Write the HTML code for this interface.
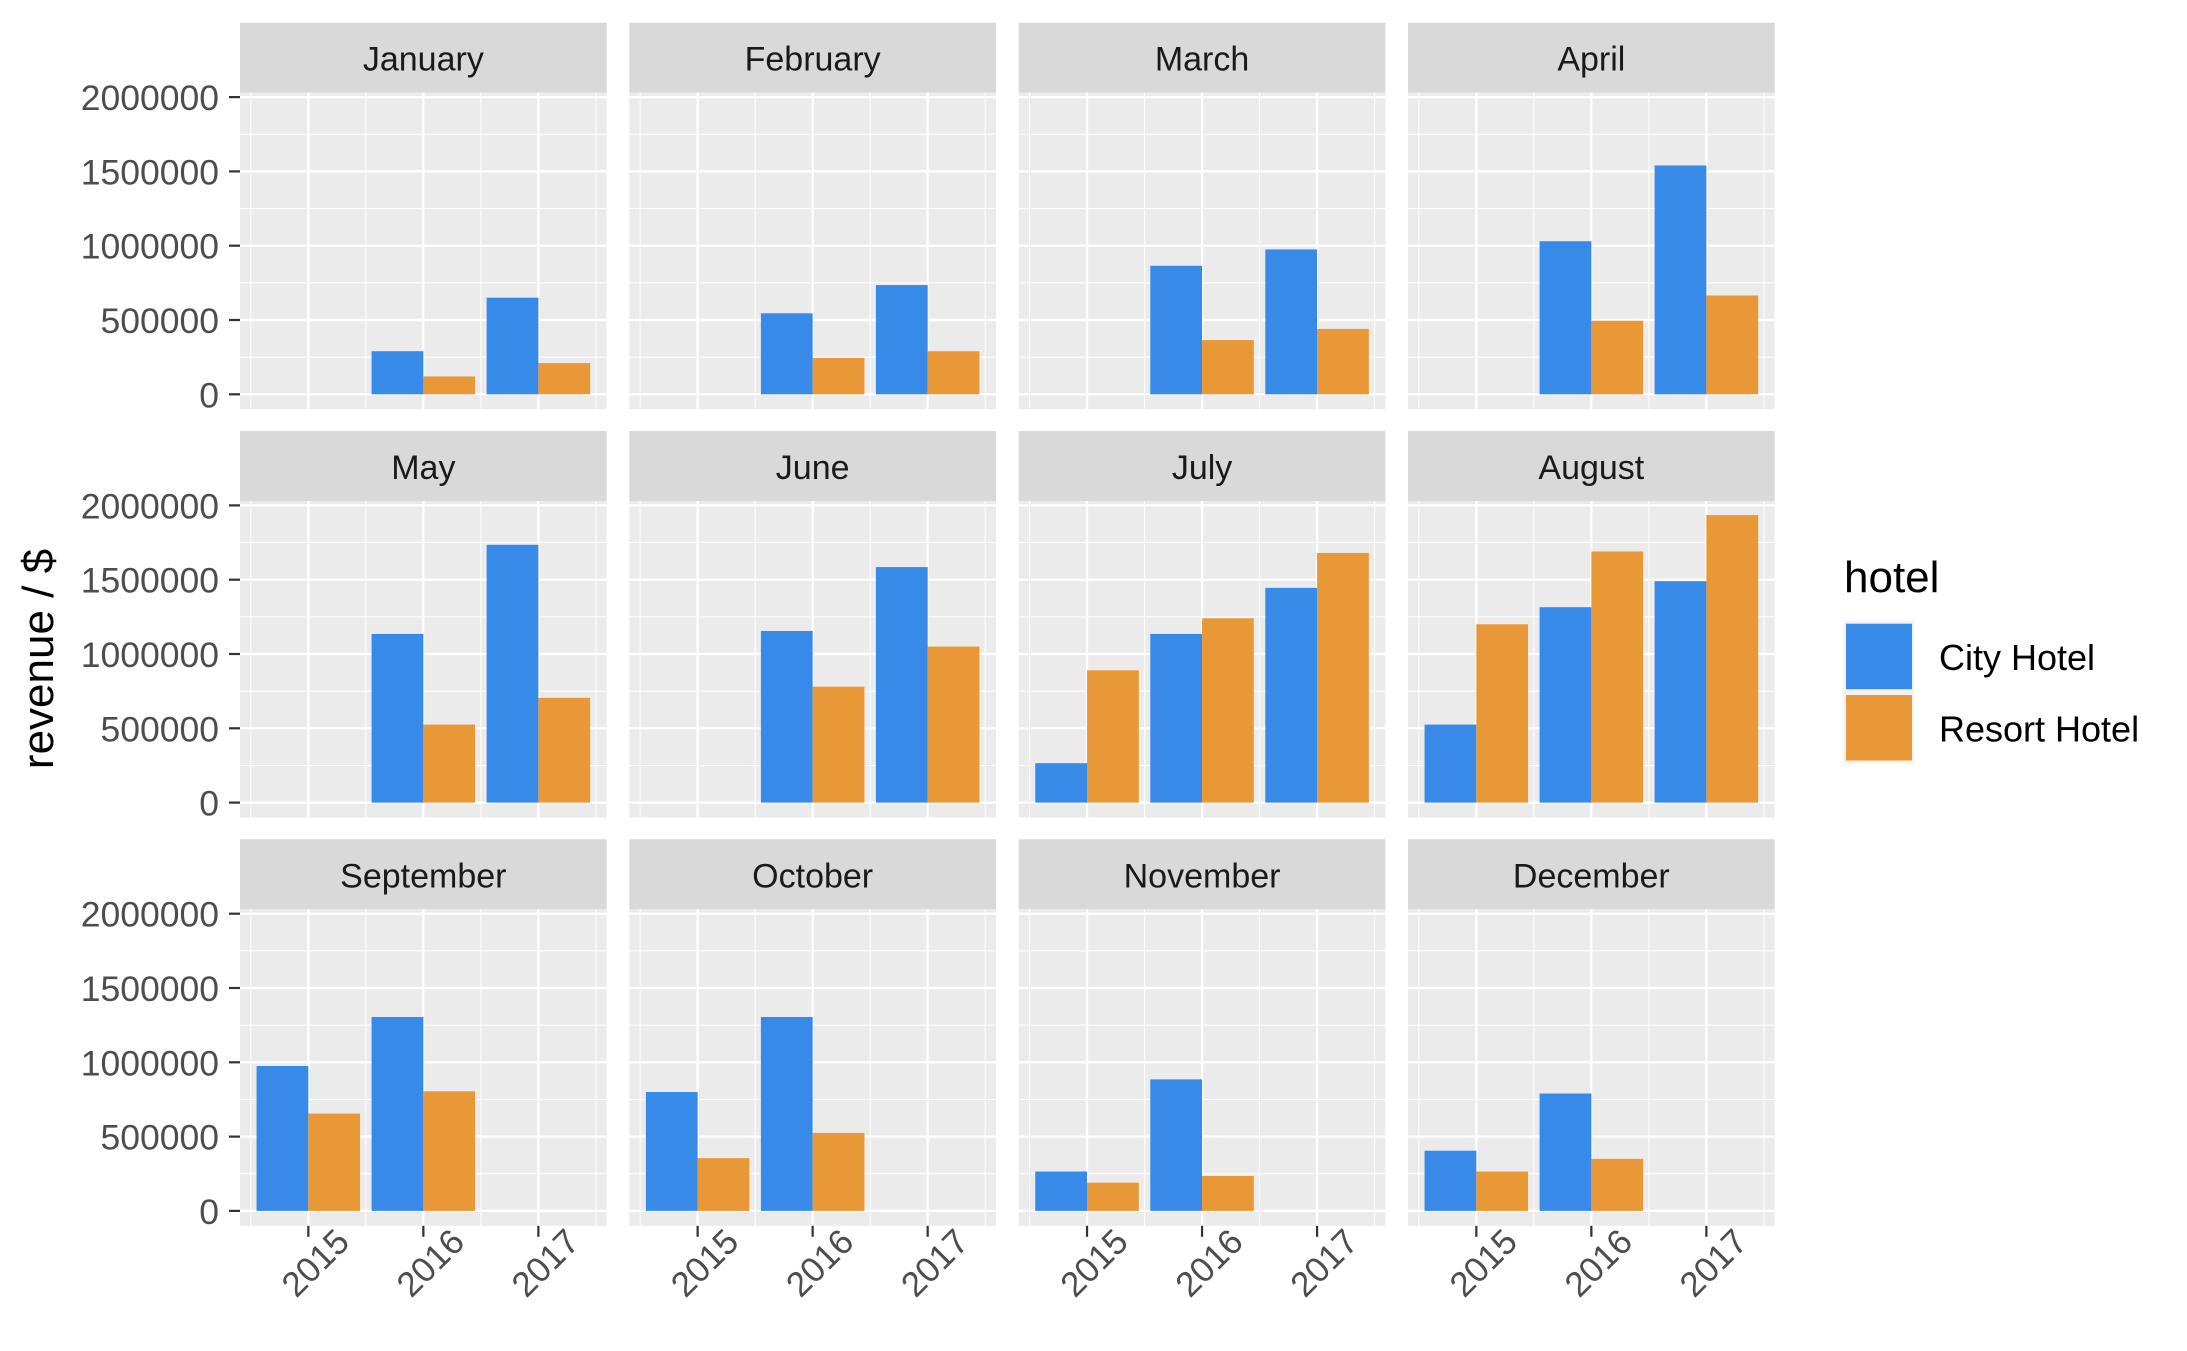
<!DOCTYPE html>
<html><head><meta charset="utf-8"><style>
html,body{margin:0;padding:0;background:#fff;}
svg{display:block;font-family:"Liberation Sans",Arial,sans-serif;}
</style></head><body>
<svg id="chart" width="2187" height="1351" viewBox="0 0 2187 1351" xmlns="http://www.w3.org/2000/svg"></svg>
<script>
const months=["January","February","March","April","May","June","July","August","September","October","November","December"];
const years=[2015,2016,2017];
const yTicks=[0,500000,1000000,1500000,2000000];
const yTickLabels=["0","500000","1000000","1500000","2000000"];
const cityRevenue=[
[null,290000,650000],[null,545000,735000],[null,865000,975000],[null,1030000,1540000],
[null,1135000,1735000],[null,1155000,1585000],[265000,1135000,1445000],[525000,1315000,1490000],
[975000,1305000,null],[800000,1305000,null],[265000,885000,null],[405000,790000,null]];
const resortRevenue=[
[null,120000,210000],[null,245000,290000],[null,365000,440000],[null,495000,665000],
[null,525000,705000],[null,780000,1050000],[890000,1240000,1680000],[1200000,1690000,1935000],
[655000,805000,null],[355000,525000,null],[190000,235000,null],[265000,350000,null]];
const seriesNames=["City Hotel","Resort Hotel"];
const colors=["#378AE8","#E99837"];

const NS="http://www.w3.org/2000/svg";
const svg=document.getElementById('chart');
function mk(tag,attrs,parent){const e=document.createElementNS(NS,tag);for(const k in attrs)e.setAttribute(k,attrs[k]);(parent||svg).appendChild(e);return e;}
const colX=[240,629.3,1018.7,1408], PW=366.7;
const rowPanel=[92.7,501,909.3], PH=316.5, SH=70;
const xMin=2014.406,xMax=2017.594;
function sx(c,v){return colX[c]+(v-xMin)/(xMax-xMin)*PW;}
function sy(r,v){const zero=rowPanel[r]+301.6;return zero-v/500000*74.3;}

months.forEach((m,i)=>{
  const r=Math.floor(i/4),c=i%4;
  const g=mk('g',{});
  
  
  const st=mk('rect',{x:colX[c],y:rowPanel[r]-SH,width:PW,height:SH,fill:'#D9D9D9'},g);
  
  
  const stt=mk('text',{x:colX[c]+PW/2,y:rowPanel[r]-SH+48,'text-anchor':'middle','font-size':34,fill:'#1a1a1a'},g);
  stt.textContent=m;
  
  
  mk('rect',{x:colX[c],y:rowPanel[r],width:PW,height:PH,fill:'#EBEBEB'},g);
  for(let k=0;k<4;k++){const y=sy(r,250000+k*500000);mk('line',{x1:colX[c],x2:colX[c]+PW,y1:y,y2:y,stroke:'#fff','stroke-width':1},g);}
  [2014.5,2015.5,2016.5,2017.5].forEach(v=>{const x=sx(c,v);mk('line',{x1:x,x2:x,y1:rowPanel[r],y2:rowPanel[r]+PH,stroke:'#fff','stroke-width':1},g);});
  yTicks.forEach(v=>{const y=sy(r,v);mk('line',{x1:colX[c],x2:colX[c]+PW,y1:y,y2:y,stroke:'#fff','stroke-width':2.2},g);});
  years.forEach(v=>{const x=sx(c,v);mk('line',{x1:x,x2:x,y1:rowPanel[r],y2:rowPanel[r]+PH,stroke:'#fff','stroke-width':2.2},g);});
  years.forEach((yr,j)=>{
    [cityRevenue[i][j],resortRevenue[i][j]].forEach((val,s)=>{
      if(val==null)return;
      const x0=sx(c,yr-0.45+s*0.45), x1=sx(c,yr+s*0.45);
      const b=mk('rect',{x:x0,y:sy(r,val),width:x1-x0,height:sy(r,0)-sy(r,val),fill:colors[s]},g);
      
      
    });
  });
  if(c===0){
    yTicks.forEach((v,k)=>{const y=sy(r,v);
      mk('line',{x1:229,x2:240,y1:y,y2:y,stroke:'#333','stroke-width':2.2});
      const t=mk('text',{x:219,y:y+13,'text-anchor':'end','font-size':35.5,fill:'#4d4d4d'});
      t.textContent=yTickLabels[k];
      
      
    });
  }
  if(r===2){
    years.forEach(v=>{const x=sx(c,v);const yb=rowPanel[r]+PH;
      mk('line',{x1:x,x2:x,y1:yb,y2:yb+11,stroke:'#333','stroke-width':2.2});
      const ax=x+43, ay=yb+18;
      const t=mk('text',{x:ax,y:ay,'text-anchor':'end','font-size':35,fill:'#4d4d4d',transform:`rotate(-45 ${ax} ${ay})`});
      t.textContent=v;
      
      
    });
  }
});
const yt=mk('text',{x:53,y:659,'text-anchor':'middle','font-size':44,fill:'#000',transform:'rotate(-90 53 659)'});
yt.textContent='revenue / $';


const lg=mk('g',{});


const lt=mk('text',{x:1844,y:592,'font-size':44,fill:'#000'},lg);
lt.textContent='hotel';


seriesNames.forEach((n,s)=>{
  const y=620.7+s*71.3;
  mk('rect',{x:1843.3,y:y,width:71,height:71.3,fill:'#F2F2F2'},lg);
  const k=mk('rect',{x:1846,y:y+3,width:66,height:65.5,fill:colors[s]},lg);
  
  
  const t=mk('text',{x:1939,y:y+49.5,'font-size':36,fill:'#000'},lg);
  t.textContent=n;
  
  
});
</script>
</body></html>
